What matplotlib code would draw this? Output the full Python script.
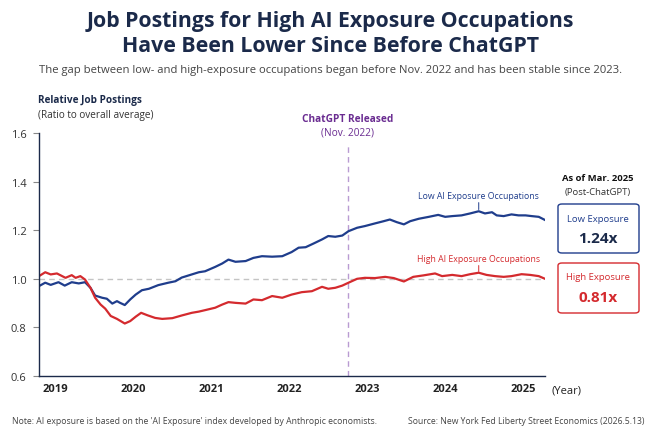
"""
Recreate the chart on relative job postings for low vs. high AI exposure occupations.
Output: out.png (660x439)
"""

import matplotlib

matplotlib.use("Agg")
import matplotlib.pyplot as plt
from matplotlib.patches import FancyBboxPatch

plt.rcParams["font.family"] = ["Open Sans", "DejaVu Sans"]

# ---------------------------------------------------------------------------
# Data (decimal years)
# ---------------------------------------------------------------------------

low_years = [
    2018.79, 2018.87, 2018.94, 2019.04, 2019.12, 2019.21, 2019.30, 2019.38,
    2019.45, 2019.51, 2019.60, 2019.66, 2019.73, 2019.79, 2019.83, 2019.89,
    2019.96, 2020.03, 2020.11, 2020.20, 2020.32, 2020.45, 2020.54, 2020.62,
    2020.75, 2020.84, 2020.92, 2021.05, 2021.14, 2021.22, 2021.31, 2021.44,
    2021.54, 2021.65, 2021.78, 2021.91, 2022.03, 2022.12, 2022.21, 2022.31,
    2022.42, 2022.50, 2022.59, 2022.68, 2022.76, 2022.87, 2022.97, 2023.10,
    2023.21, 2023.29, 2023.38, 2023.47, 2023.55, 2023.66, 2023.79, 2023.91,
    2024.00, 2024.09, 2024.21, 2024.32, 2024.43, 2024.51, 2024.60, 2024.66,
    2024.75, 2024.85, 2024.94, 2025.03, 2025.11, 2025.20, 2025.28,
]
low_values = [
    0.970, 0.984, 0.975, 0.986, 0.972, 0.986, 0.981, 0.986,
    0.963, 0.931, 0.922, 0.918, 0.898, 0.908, 0.901, 0.892,
    0.915, 0.935, 0.953, 0.959, 0.974, 0.984, 0.990, 1.005,
    1.018, 1.027, 1.031, 1.049, 1.063, 1.079, 1.070, 1.073,
    1.086, 1.093, 1.091, 1.093, 1.110, 1.128, 1.130, 1.145,
    1.162, 1.176, 1.173, 1.178, 1.196, 1.210, 1.217, 1.228,
    1.237, 1.244, 1.233, 1.224, 1.237, 1.247, 1.255, 1.263,
    1.255, 1.258, 1.261, 1.269, 1.278, 1.269, 1.274, 1.261,
    1.258, 1.265, 1.261, 1.261, 1.258, 1.255, 1.242,
]

high_years = [
    2018.79, 2018.87, 2018.94, 2019.02, 2019.13, 2019.21, 2019.26, 2019.32,
    2019.38, 2019.45, 2019.51, 2019.58, 2019.64, 2019.71, 2019.79, 2019.89,
    2019.96, 2020.03, 2020.10, 2020.18, 2020.28, 2020.37, 2020.50, 2020.62,
    2020.75, 2020.84, 2020.92, 2021.05, 2021.14, 2021.22, 2021.31, 2021.44,
    2021.54, 2021.65, 2021.78, 2021.91, 2022.03, 2022.16, 2022.29, 2022.42,
    2022.50, 2022.59, 2022.68, 2022.76, 2022.87, 2022.97, 2023.10, 2023.23,
    2023.34, 2023.47, 2023.59, 2023.72, 2023.87, 2023.96, 2024.09, 2024.21,
    2024.32, 2024.43, 2024.53, 2024.64, 2024.75, 2024.85, 2024.98, 2025.09,
    2025.20, 2025.28,
]
high_values = [
    1.011, 1.027, 1.018, 1.022, 1.004, 1.015, 1.004, 1.011,
    0.997, 0.963, 0.922, 0.894, 0.877, 0.847, 0.835, 0.816,
    0.826, 0.844, 0.860, 0.850, 0.839, 0.835, 0.838, 0.849,
    0.860, 0.865, 0.871, 0.881, 0.894, 0.904, 0.901, 0.898,
    0.915, 0.912, 0.929, 0.922, 0.935, 0.945, 0.949, 0.967,
    0.959, 0.963, 0.972, 0.984, 1.000, 1.004, 1.003, 1.008,
    1.003, 0.989, 1.008, 1.014, 1.022, 1.011, 1.016, 1.011,
    1.019, 1.025, 1.016, 1.011, 1.008, 1.011, 1.019, 1.016,
    1.011, 1.000,
]

year_ticks = [2019, 2020, 2021, 2022, 2023, 2024, 2025]
year_labels = ["2019", "2020", "2021", "2022", "2023", "2024", "2025"]
y_ticks = [0.6, 0.8, 1.0, 1.2, 1.4, 1.6]
y_labels = ["0.6", "0.8", "1.0", "1.2", "1.4", "1.6"]

chatgpt_release = 2022.75
peak_year = 2024.43
low_summary = "1.24x"
high_summary = "0.81x"

# ---------------------------------------------------------------------------
# Styles
# ---------------------------------------------------------------------------

W, H = 660, 439
NAVY = "#1b2a4a"
BLUE = "#1f3d8c"
RED = "#d42a2e"
PURPLE = "#6a2c91"
PURPLE_LINE = "#b99bd2"


def fx(x):
    return x / W


def fy(y):
    return 1 - y / H


fig = plt.figure(figsize=(W / 100, H / 100), dpi=100)
fig.patch.set_facecolor("white")
ax = fig.add_axes([fx(39), fy(377), fx(545) - fx(39), fy(134) - fy(377)])

ax.plot(low_years, low_values, color=BLUE, lw=1.6, solid_joinstyle="round")
ax.plot(high_years, high_values, color=RED, lw=1.6, solid_joinstyle="round")
ax.axhline(1.0, color="#c4c4c4", lw=1.0, ls=(0, (4, 3)), zorder=0)
ax.plot([chatgpt_release, chatgpt_release], [0.6, 1.545], color=PURPLE_LINE,
        lw=1.0, ls=(0, (4, 3)), zorder=0)

ax.set_xlim(2018.79, 2025.28)
ax.set_ylim(0.6, 1.6)
ax.set_yticks(y_ticks)
ax.set_yticklabels(y_labels, fontsize=8, color="#333333")
ax.set_xticks(year_ticks)
ax.set_xticklabels(year_labels, fontsize=8, fontweight="bold", color="#222222")
ax.tick_params(axis="x", length=0, pad=5)
ax.tick_params(axis="y", length=4, width=0.8, color="#888888", pad=5)
for side in ["top", "right"]:
    ax.spines[side].set_visible(False)
for side in ["left", "bottom"]:
    ax.spines[side].set_color(NAVY)
    ax.spines[side].set_linewidth(1.0)

ax.text(1.012, -0.036, "(Year)", transform=ax.transAxes, fontsize=8,
        color="#222222", ha="left", va="top")

# ChatGPT release label
ax.text(chatgpt_release, 1.66, "ChatGPT Released", ha="center", va="center",
        fontsize=7.3, fontweight="bold", color=PURPLE)
ax.text(chatgpt_release, 1.605, "(Nov. 2022)", ha="center", va="center",
        fontsize=7.3, color=PURPLE)

# Line labels
ax.annotate("Low AI Exposure Occupations", xy=(peak_year, 1.285),
            xytext=(peak_year, 1.325), ha="center", va="bottom", fontsize=6.3,
            color=BLUE, arrowprops=dict(arrowstyle="-", color=BLUE, lw=0.7,
                                        shrinkA=0, shrinkB=0))
ax.annotate("High AI Exposure Occupations", xy=(peak_year, 1.03),
            xytext=(peak_year, 1.066), ha="center", va="bottom", fontsize=6.3,
            color=RED, arrowprops=dict(arrowstyle="-", color=RED, lw=0.7,
                                       shrinkA=0, shrinkB=0))

# Titles
fig.text(fx(330), fy(22), "Job Postings for High AI Exposure Occupations",
         ha="center", va="center", fontsize=15.3, fontweight="bold", color=NAVY)
fig.text(fx(330), fy(46), "Have Been Lower Since Before ChatGPT",
         ha="center", va="center", fontsize=15.3, fontweight="bold", color=NAVY)
fig.text(fx(331), fy(71),
         "The gap between low- and high-exposure occupations began before Nov. 2022 "
         "and has been stable since 2023.",
         ha="center", va="center", fontsize=8.1, color="#444444")
fig.text(fx(38), fy(100), "Relative Job Postings", ha="left", va="center",
         fontsize=7.2, fontweight="bold", color=NAVY)
fig.text(fx(38), fy(116), "(Ratio to overall average)", ha="left", va="center",
         fontsize=7.2, color="#333333")

# Right-hand summary boxes
fig.text(fx(598), fy(179), "As of Mar. 2025", ha="center", va="center",
         fontsize=6.8, fontweight="bold", color="#111111")
fig.text(fx(598), fy(193), "(Post-ChatGPT)", ha="center", va="center",
         fontsize=6.8, color="#333333")

for top, bottom, edge, name, value in [
    (205, 254, BLUE, "Low Exposure", low_summary),
    (264, 314, RED, "High Exposure", high_summary),
]:
    box = FancyBboxPatch((fx(558), fy(bottom)), fx(639) - fx(558), fy(top) - fy(bottom),
                         boxstyle="round,pad=0,rounding_size=0.006",
                         transform=fig.transFigure, facecolor="white",
                         edgecolor=edge, lw=1.0)
    fig.patches.append(box)
    name_color = BLUE if edge == BLUE else RED
    value_color = NAVY if edge == BLUE else RED
    fig.text(fx(598), fy(top + 14), name, ha="center", va="center",
             fontsize=6.8, color=name_color)
    fig.text(fx(598), fy(top + 34), value, ha="center", va="center",
             fontsize=11, fontweight="bold", color=value_color)

# Footer
fig.text(fx(12), fy(422),
         "Note: AI exposure is based on the 'AI Exposure' index developed by "
         "Anthropic economists.",
         ha="left", va="center", fontsize=6.2, color="#444444")
fig.text(fx(645), fy(422),
         "Source: New York Fed Liberty Street Economics (2026.5.13)",
         ha="right", va="center", fontsize=6.2, color="#444444")

fig.savefig("out.png", dpi=100, facecolor="white")
